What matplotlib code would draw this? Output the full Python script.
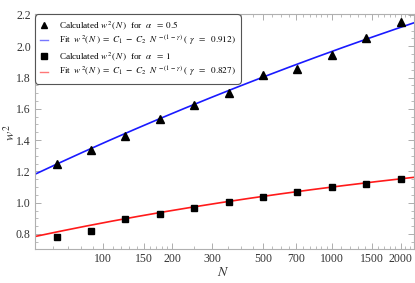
import numpy as np
import matplotlib
matplotlib.use("Agg")
import matplotlib.pyplot as plt
from matplotlib.ticker import FixedLocator, NullFormatter, MultipleLocator
from matplotlib.lines import Line2D

plt.rcParams['font.family'] = ['Liberation Serif', 'DejaVu Serif']
plt.rcParams['mathtext.fontset'] = 'stix'

# Data
N_vals = [62.5, 88.4, 125, 176.8, 250, 353.6, 500, 707, 1000, 1414, 2000]
w2_alpha05 = [1.249, 1.338, 1.428, 1.533, 1.626, 1.699, 1.818, 1.854, 1.944, 2.054, 2.153]
w2_alpha1 = [0.779, 0.821, 0.894, 0.930, 0.968, 1.006, 1.035, 1.066, 1.102, 1.117, 1.150]

# Fit parameters: w^2 = C1 - C2 N^-(1-gamma)
gamma_05, C1_05, C2_05 = 0.912, 4.572, 4.785
gamma_1, C1_1, C2_1 = 0.827, 1.566, 1.540

x_ticks = [100, 150, 200, 300, 500, 700, 1000, 1500, 2000]
x_tick_labels = ['100', '150', '200', '300', '500', '700', '1000', '1500', '2000']
y_ticks = [0.8, 1.0, 1.2, 1.4, 1.6, 1.8, 2.0, 2.2]

fig = plt.figure(figsize=(4.15, 2.83), dpi=100)
ax = fig.add_axes([35/415, 34/283, 379/415, 235/283])

xlo, xhi = 50.2, 2291
Nf = np.logspace(np.log10(xlo), np.log10(xhi), 300)
fit05 = C1_05 - C2_05 * Nf ** (-(1 - gamma_05))
fit1 = C1_1 - C2_1 * Nf ** (-(1 - gamma_1))

ax.plot(N_vals, w2_alpha05, linestyle='none', marker='^', color='black', markersize=5.2, zorder=3)
ax.plot(Nf, fit05, color='#1a1aff', lw=1.2, zorder=2)
ax.plot(N_vals, w2_alpha1, linestyle='none', marker='s', color='black', markersize=4.3, zorder=3)
ax.plot(Nf, fit1, color='#ff1a1a', lw=1.2, zorder=2)

ax.set_xscale('log')
ax.set_xlim(xlo, xhi)
ax.set_ylim(0.704, 2.206)

ax.xaxis.set_major_locator(FixedLocator(x_ticks))
ax.set_xticklabels(x_tick_labels)
minor_x = [60, 70, 80, 90] + list(range(110, 200, 10)) + list(range(250, 1000, 50)) + list(range(1100, 2300, 100))
minor_x = [m for m in minor_x if m not in x_ticks]
ax.xaxis.set_minor_locator(FixedLocator(minor_x))
ax.xaxis.set_minor_formatter(NullFormatter())
ax.yaxis.set_major_locator(FixedLocator(y_ticks))
ax.yaxis.set_minor_locator(MultipleLocator(0.05))

for sp in ax.spines.values():
    sp.set_color('#b0b0b0')
    sp.set_linewidth(0.8)
ax.tick_params(which='both', direction='in', top=True, right=True, colors='#a0a0a0',
               labelcolor='#333333', labelsize=8.5, pad=3)
ax.tick_params(which='major', length=4, width=0.6)
ax.tick_params(which='minor', length=2, width=0.5)

ax.set_xlabel(r'$N$', fontsize=10, color='#333333')
ax.set_ylabel(r'$w^2$', fontsize=10, color='#333333')
ax.xaxis.set_label_coords((223 - 35) / 379, -(273 - 249) / 235)
ax.yaxis.set_label_coords(-(35 - 10) / 379, (249 - 133) / 235)
ax.xaxis.label.set_va('center')
ax.yaxis.label.set_va('center')

# Legend
handles = [
    Line2D([], [], linestyle='none', marker='^', color='black', markersize=4.5),
    Line2D([], [], color='#7777ff', lw=1.0),
    Line2D([], [], linestyle='none', marker='s', color='black', markersize=4),
    Line2D([], [], color='#ff7777', lw=1.0),
]
labels = [
    r'Calculated $w^{\,2}(\,N\,)$  for  $\alpha\ \ =\ 0.5$',
    r'Fit  $w^{\,2}(\,N\,)\ =\ C_1\ -\ C_2\ \ N^{\,-(1\,-\,\gamma)}\ (\ \gamma\ \ =\ \ 0.912)$',
    r'Calculated $w^{\,2}(\,N\,)$  for  $\alpha\ \ =\ 1$',
    r'Fit  $w^{\,2}(\,N\,)\ =\ C_1\ -\ C_2\ \ N^{\,-(1\,-\,\gamma)}\ (\ \gamma\ \ =\ \ 0.827)$',
]
leg = ax.legend(handles, labels, loc='upper left', bbox_to_anchor=(0.004, 0.992),
                fontsize=6.6, frameon=True, fancybox=True, handlelength=0.9,
                handletextpad=1.2, labelspacing=0.25, borderpad=0.35, borderaxespad=0.0)
frame = leg.get_frame()
frame.set_edgecolor('#555555')
frame.set_linewidth(0.8)
frame.set_facecolor('white')
frame.set_alpha(1.0)
frame.set_boxstyle('round,pad=0.2,rounding_size=0.4')

fig.savefig('out.png', dpi=100)
